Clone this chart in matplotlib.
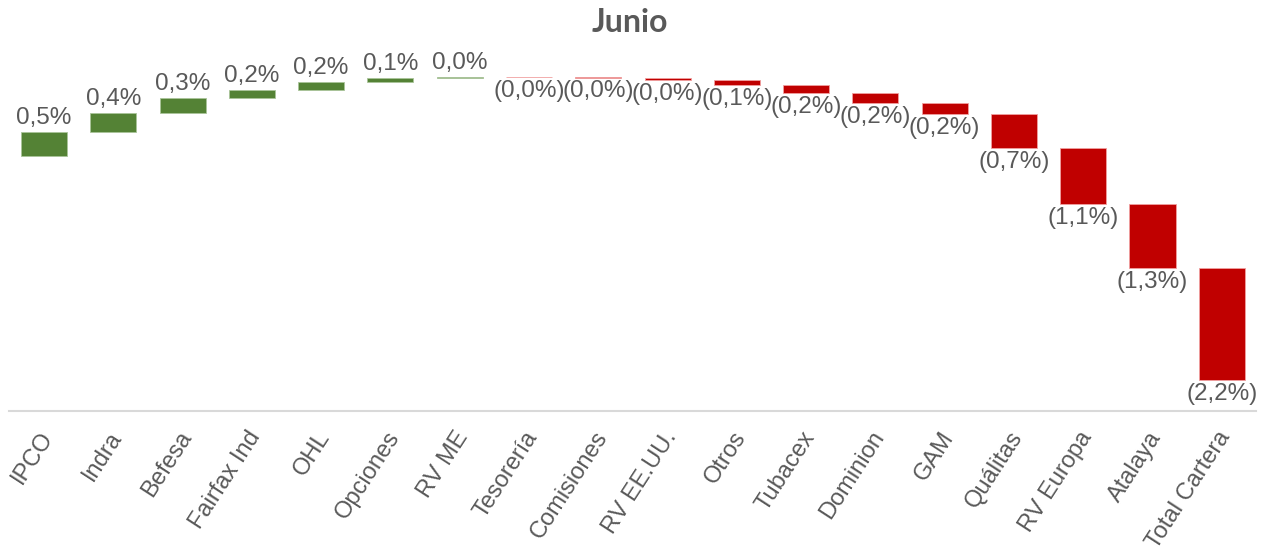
import matplotlib
matplotlib.use("Agg")
import matplotlib.pyplot as plt
import matplotlib.transforms as mtransforms
import numpy as np

categories = ["IPCO", "Indra", "Befesa", "Fairfax Ind", "OHL", "Opciones", "RV ME",
              "Tesorería", "Comisiones", "RV EE.UU.", "Otros", "Tubacex", "Dominion",
              "GAM", "Quálitas", "RV Europa", "Atalaya"]
values = [0.48, 0.39, 0.30, 0.16, 0.16, 0.07, 0.02,
          -0.005, -0.005, -0.045, -0.114, -0.16, -0.194,
          -0.22, -0.68, -1.112, -1.284]
total_label = "Total Cartera"
title = "Junio"

GREEN = "#548235"
RED = "#C00000"
GREY = "#595959"

def fmt(v):
    s = f"{abs(v):.1f}".replace(".", ",") + "%"
    return s if v >= 0 else f"({s})"

fig = plt.figure(figsize=(12.71, 5.57), dpi=100)
W, H = 1271, 557
y_axis_px, top_px, zero_px, k = 410.7, 46.0, 156.0, 50.0
ax = fig.add_axes([9.4 / W, (H - y_axis_px) / H, 1247 / W, (y_axis_px - top_px) / H])

cum = np.concatenate([[0.0], np.cumsum(values)])
total = float(np.sum(values))
bottoms = list(cum[:-1]) + [cum[-1]]
heights = list(values) + [total]
labels = categories + [total_label]
x = np.arange(len(labels))
colors = [GREEN if h >= 0 else RED for h in heights]
edges = ["#a9c49a" if h >= 0 else "#f0a0a0" for h in heights]

ax.bar(x, heights, bottom=bottoms, width=0.665, color=colors,
       edgecolor=edges, linewidth=0.6)

for xi, b, h in zip(x, bottoms, heights):
    if h >= 0:
        ax.annotate(fmt(h), (xi, b + h), xytext=(0, 2), textcoords="offset points",
                    ha="center", va="bottom", fontsize=17.5, color=GREY,
                    family="Liberation Sans")
    else:
        ax.annotate(fmt(h), (xi, b + h), xytext=(0, -2), textcoords="offset points",
                    ha="center", va="top", fontsize=17.5, color=GREY,
                    family="Liberation Sans")

ax.set_xlim(-0.5, len(labels) - 0.5)
ax.set_ylim(-(y_axis_px - zero_px) / k, (zero_px - top_px) / k)
ax.set_xticks(x)
ax.set_xticklabels(labels, rotation=57, ha="right", rotation_mode="anchor",
                   fontsize=17, color=GREY, family="Liberation Sans")
ax.tick_params(axis="x", length=0, pad=12)
shift = mtransforms.ScaledTranslation(-5 / 100, 0, fig.dpi_scale_trans)
for lbl in ax.get_xticklabels():
    lbl.set_transform(lbl.get_transform() + shift)
ax.set_yticks([])
for s in ["top", "left", "right"]:
    ax.spines[s].set_visible(False)
ax.spines["bottom"].set_color("#D9D9D9")
ax.spines["bottom"].set_linewidth(1.5)

fig.text(630 / W, 1 - 22 / H, title, ha="center", va="center", fontsize=23,
         fontweight="bold", color=GREY, family="Lato")

fig.savefig("out.png", dpi=100)
